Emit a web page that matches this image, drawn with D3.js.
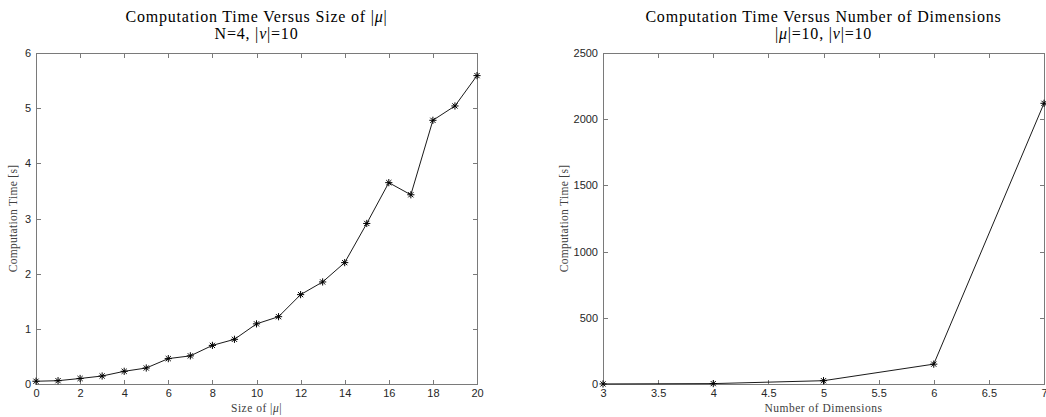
<!DOCTYPE html>
<html><head><meta charset="utf-8">
<script src="https://cdn.jsdelivr.net/npm/d3@7"></script>
<style>body{margin:0;background:#fff;}svg{display:block;}</style>
</head><body>
<svg id="c" width="1046" height="417"></svg>
<script>
// Left chart data
const sizeMu = [0,1,2,3,4,5,6,7,8,9,10,11,12,13,14,15,16,17,18,19,20];
const timeSize = [0.05,0.06,0.10,0.145,0.23,0.29,0.46,0.51,0.70,0.81,1.09,1.22,1.62,1.85,2.20,2.91,3.65,3.43,4.78,5.04,5.59];
const leftXTicks = [0,2,4,6,8,10,12,14,16,18,20];
const leftYTicks = [0,1,2,3,4,5,6];
// Right chart data
const dims = [3,4,5,6,7];
const timeDims = [0.5,3,25,150,2120];
const rightXTicks = [3,3.5,4,4.5,5,5.5,6,6.5,7];
const rightYTicks = [0,500,1000,1500,2000,2500];

const svg = d3.select("#c");
const axisColor = "#7a7a7a";
const tickText = "#262626";

function panel(o){
  const g = svg.append("g");
  const x = d3.scaleLinear().domain(o.xd).range([o.x0,o.x1]);
  const y = d3.scaleLinear().domain(o.yd).range([o.y1,o.y0]);
  const tl = 4.5;
  g.append("rect").attr("x",o.x0).attr("y",o.y0).attr("width",o.x1-o.x0).attr("height",o.y1-o.y0)
    .attr("fill","none").attr("stroke",axisColor).attr("stroke-width",1).attr("shape-rendering","crispEdges");
  const gb = g.append("g").attr("transform",`translate(0,${o.y1})`)
    .call(d3.axisBottom(x).tickValues(o.xt).tickSize(-tl).tickPadding(5).tickFormat(d=>String(d)));
  const gt = g.append("g").attr("transform",`translate(0,${o.y0})`)
    .call(d3.axisTop(x).tickValues(o.xt).tickSize(-tl).tickFormat(""));
  const gl = g.append("g").attr("transform",`translate(${o.x0},0)`)
    .call(d3.axisLeft(y).tickValues(o.yt).tickSize(-tl).tickPadding(5).tickFormat(d=>String(d)));
  const gr = g.append("g").attr("transform",`translate(${o.x1},0)`)
    .call(d3.axisRight(y).tickValues(o.yt).tickSize(-tl).tickFormat(""));
  [gb,gt,gl,gr].forEach(a=>{
    a.select(".domain").remove();
    a.selectAll(".tick line").attr("stroke",axisColor).attr("shape-rendering","crispEdges");
    a.selectAll(".tick text").attr("fill",tickText).style("font-family","'Liberation Sans', Arial, sans-serif").style("font-size","11px");
  });
  const pts = o.xs.map((d,i)=>[x(d),y(o.ys[i])]);
  g.append("path").attr("d",d3.line()(pts)).attr("fill","none").attr("stroke","#000").attr("stroke-width",0.9);
  const r = 3.6, rd = r*0.72;
  g.selectAll("path.m").data(pts).join("path").attr("class","m")
    .attr("d",([px,py])=>`M${px-r},${py}L${px+r},${py}M${px},${py-r}L${px},${py+r}M${px-rd},${py-rd}L${px+rd},${py+rd}M${px-rd},${py+rd}L${px+rd},${py-rd}`)
    .attr("stroke","#000").attr("stroke-width",1).attr("fill","none");
  const cx = (o.x0+o.x1)/2;
  const serif = "'Liberation Serif','DejaVu Serif',serif";
  g.append("text").attr("x",cx).attr("y",22).attr("text-anchor","middle").style("font-family",serif).style("font-size","16px").style("letter-spacing","0.8px").attr("fill","#000").html(o.t1);
  g.append("text").attr("x",cx).attr("y",39).attr("text-anchor","middle").style("font-family",serif).style("font-size","16px").style("letter-spacing","0.8px").attr("fill","#000").html(o.t2);
  g.append("text").attr("x",cx).attr("y",412).attr("text-anchor","middle").style("font-family",serif).style("font-size","11.5px").style("letter-spacing","0.5px").attr("fill","#404040").html(o.xl);
  g.append("text").attr("transform",`translate(${o.yl},${(o.y0+o.y1)/2}) rotate(-90)`).attr("text-anchor","middle").style("font-family",serif).style("font-size","11.5px").style("letter-spacing","0.3px").attr("fill","#404040").text("Computation Time [s]");
}

panel({x0:36,x1:477,y0:53,y1:384,xd:[0,20],yd:[0,6],xt:leftXTicks,yt:leftYTicks,xs:sizeMu,ys:timeSize,
  t1:"Computation Time Versus Size of |<tspan font-style='italic'>μ</tspan>|",
  t2:"N=4, |<tspan font-style='italic'>ν</tspan>|=10",
  xl:"Size of |<tspan font-style='italic'>μ</tspan>|", yl:17});
panel({x0:603,x1:1044,y0:53,y1:384,xd:[3,7],yd:[0,2500],xt:rightXTicks,yt:rightYTicks,xs:dims,ys:timeDims,
  t1:"Computation Time Versus Number of Dimensions",
  t2:"|<tspan font-style='italic'>μ</tspan>|=10, |<tspan font-style='italic'>ν</tspan>|=10",
  xl:"Number of Dimensions", yl:568});
</script>
</body></html>
